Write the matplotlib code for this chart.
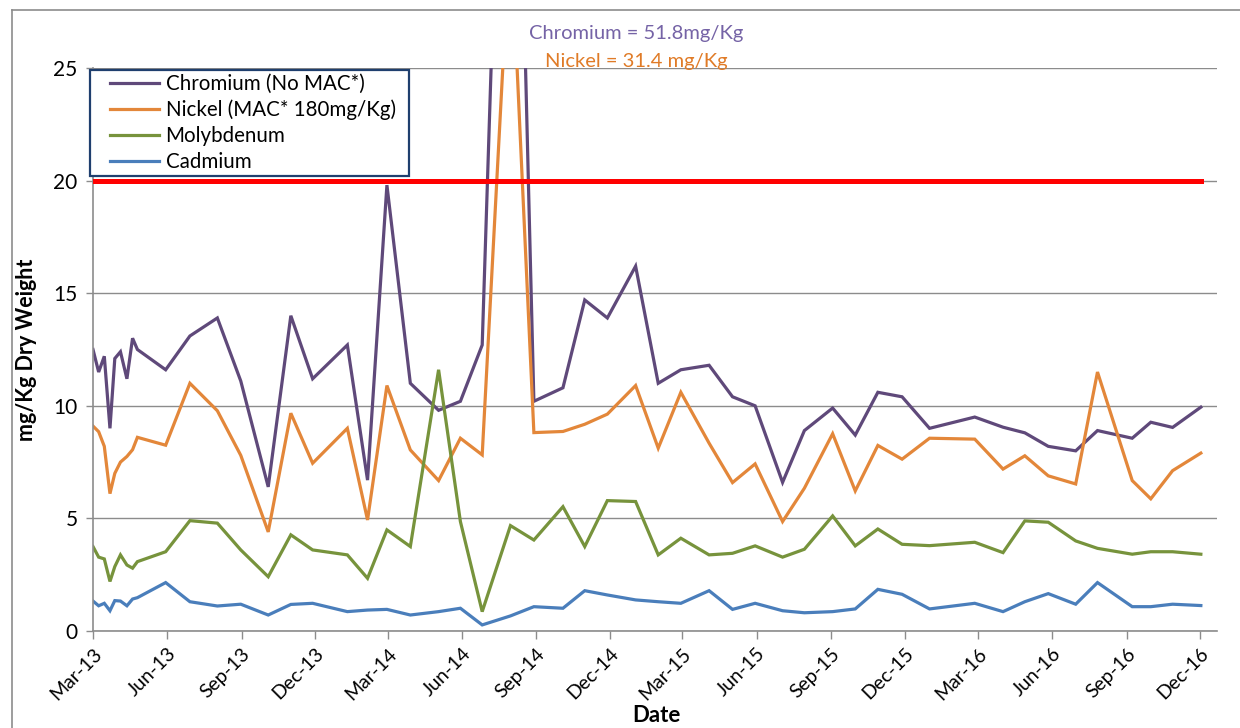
import numpy as np
import matplotlib
matplotlib.use('Agg')
import matplotlib.pyplot as plt
from matplotlib.lines import Line2D
from matplotlib.patches import Rectangle

# sample dates and metal concentrations (mg/Kg dry weight)
dates = np.array([
    '2013-03-01', '2013-03-08', '2013-03-15', '2013-03-22', '2013-03-28',
    '2013-04-04', '2013-04-12', '2013-04-19', '2013-04-25', '2013-05-30',
    '2013-06-29', '2013-08-02', '2013-08-31', '2013-10-04', '2013-11-01',
    '2013-11-28', '2014-01-10', '2014-02-04', '2014-02-28', '2014-03-29',
    '2014-05-03', '2014-05-30', '2014-06-26', '2014-07-31', '2014-08-29',
    '2014-10-04', '2014-10-31', '2014-11-28', '2015-01-02', '2015-01-30',
    '2015-02-27', '2015-04-03', '2015-05-02', '2015-05-30', '2015-07-03',
    '2015-07-30', '2015-09-03', '2015-10-01', '2015-10-29', '2015-11-28',
    '2016-01-01', '2016-02-26', '2016-04-01', '2016-04-28', '2016-05-27',
    '2016-06-30', '2016-07-27', '2016-09-08', '2016-10-01', '2016-10-28',
    '2016-12-02'], dtype='datetime64[D]')

chromium = [12.5, 11.5, 12.2, 9.0, 12.1, 12.4, 11.2, 13.0, 12.5, 11.6,
            13.1, 13.9, 11.1, 6.4, 14.0, 11.2, 12.7, 6.7, 19.8, 11.0,
            9.8, 10.2, 12.7, 51.8, 10.2, 10.8, 14.7, 13.9, 16.2, 11.0,
            11.6, 11.8, 10.4, 10.0, 6.6, 8.9, 9.9, 8.7, 10.6, 10.4,
            9.0, 9.5, 9.05, 8.8, 8.2, 8.0, 8.9, 8.56, 9.27, 9.04,
            9.94]
nickel = [9.1, 8.85, 8.2, 6.1, 7.0, 7.5, 7.75, 8.05, 8.6, 8.25,
          11.0, 9.78, 7.8, 4.4, 9.67, 7.45, 9.0, 4.93, 10.9, 8.04,
          6.68, 8.56, 7.82, 31.4, 8.81, 8.86, 9.18, 9.63, 10.9, 8.12,
          10.6, 8.34, 6.59, 7.42, 4.86, 6.34, 8.76, 6.22, 8.24, 7.63,
          8.56, 8.52, 7.19, 7.78, 6.89, 6.53, 11.5, 6.68, 5.87, 7.12,
          7.9]
molybdenum = [3.75, 3.28, 3.2, 2.2, 2.86, 3.38, 2.93, 2.79, 3.08, 3.52,
              4.9, 4.79, 3.6, 2.41, 4.27, 3.6, 3.38, 2.34, 4.49, 3.75,
              11.6, 4.86, 0.86, 4.68, 4.04, 5.52, 3.75, 5.79, 5.75, 3.38,
              4.12, 3.38, 3.45, 3.78, 3.28, 3.63, 5.11, 3.78, 4.53, 3.85,
              3.79, 3.94, 3.48, 4.89, 4.83, 4.0, 3.67, 3.41, 3.52, 3.52,
              3.41]
cadmium = [1.33, 1.12, 1.23, 0.9, 1.35, 1.33, 1.12, 1.42, 1.48, 2.15,
           1.3, 1.11, 1.19, 0.71, 1.18, 1.23, 0.86, 0.93, 0.96, 0.71,
           0.86, 1.01, 0.27, 0.67, 1.08, 1.01, 1.79, 1.6, 1.38, 1.3,
           1.23, 1.79, 0.96, 1.23, 0.9, 0.81, 0.86, 0.98, 1.85, 1.63,
           0.98, 1.23, 0.86, 1.3, 1.66, 1.19, 2.15, 1.08, 1.08, 1.19,
           1.13]
limit = 20

labels = ['Chromium (No MAC*)', 'Nickel (MAC* 180mg/Kg)', 'Molybdenum', 'Cadmium']
colors = ['#5F497A', '#E3873A', '#77933C', '#4A7EBB']

tick_dates = np.array(['2013-03-01', '2013-06-01', '2013-09-01', '2013-12-01',
                       '2014-03-01', '2014-06-01', '2014-09-01', '2014-12-01',
                       '2015-03-01', '2015-06-01', '2015-09-01', '2015-12-01',
                       '2016-03-01', '2016-06-01', '2016-09-01', '2016-12-01'],
                      dtype='datetime64[D]')
tick_labels = ['Mar-13', 'Jun-13', 'Sep-13', 'Dec-13', 'Mar-14', 'Jun-14',
               'Sep-14', 'Dec-14', 'Mar-15', 'Jun-15', 'Sep-15', 'Dec-15',
               'Mar-16', 'Jun-16', 'Sep-16', 'Dec-16']

plt.rcParams['font.family'] = ['Lato', 'DejaVu Sans']

W, H = 1240, 728
fig = plt.figure(figsize=(W / 100, H / 100), dpi=100)
ax = fig.add_axes([93 / W, 1 - 631 / H, (1217 - 93) / W, (631 - 68) / H])

series = [chromium, nickel, molybdenum, cadmium]
for vals, lab, c in zip(series, labels, colors):
    ax.plot(dates, vals, color=c, lw=2.3, label=lab, solid_joinstyle='miter')
ax.plot(dates, np.full(len(dates), limit), color='#FF0000', lw=3.6, zorder=5)

ax.set_ylim(0, 25)
ax.set_yticks(range(0, 26, 5))
ax.set_xlim(np.datetime64('2013-03-01'), np.datetime64('2016-12-22'))
ax.set_xticks(tick_dates)
ax.set_xticklabels(tick_labels, rotation=45, ha='right', rotation_mode='anchor')

grid_c = '#8C8C8C'
ax.grid(axis='y', color=grid_c, lw=1.0)
ax.set_axisbelow(True)
for s in ['top', 'right']:
    ax.spines[s].set_visible(False)
for s in ['left', 'bottom']:
    ax.spines[s].set_color(grid_c)
    ax.spines[s].set_linewidth(1.2)
ax.tick_params(axis='x', length=6, width=1, color=grid_c, labelsize=14, pad=4)
ax.tick_params(axis='y', length=5, width=1, color=grid_c, labelsize=15, pad=6)

ax.set_ylabel('mg/Kg Dry Weight', fontsize=15.5, fontweight='bold', labelpad=12)
fig.text(656 / W, 1 - 716 / H, 'Date', fontsize=16, fontweight='bold',
         ha='center', va='center')

# legend box drawn as its own frame, legend entries placed inside it
fig.add_artist(Rectangle((90 / W, 1 - 176 / H), 319 / W, 106 / H,
                         transform=fig.transFigure, facecolor='white',
                         edgecolor='#1F3F6E', lw=1.6, zorder=2))
handles, _ = ax.get_legend_handles_labels()
leg = fig.legend(handles, labels, loc='upper left', bbox_to_anchor=(106 / W, 1 - 70 / H),
                 bbox_transform=fig.transFigure, borderaxespad=0,
                 fontsize=14.8, frameon=False, handlelength=2.4,
                 handletextpad=0.3, labelspacing=0.28, borderpad=0.2)
leg.set_zorder(3)

fig.text(636 / W, 1 - 34 / H, 'Chromium = 51.8mg/Kg', color='#7563A6',
         fontsize=14.5, ha='center', va='center')
fig.text(636 / W, 1 - 61 / H, 'Nickel = 31.4 mg/Kg', color='#E07B27',
         fontsize=14.5, ha='center', va='center')

# outer chart border
fig.add_artist(Line2D([12 / W, 12 / W], [0, 1 - 10 / H], color='#8C8C8C', lw=1.2,
                      transform=fig.transFigure))
fig.add_artist(Line2D([12 / W, 1], [1 - 10 / H, 1 - 10 / H], color='#8C8C8C', lw=1.2,
                      transform=fig.transFigure))

fig.savefig('out.png', dpi=100)
